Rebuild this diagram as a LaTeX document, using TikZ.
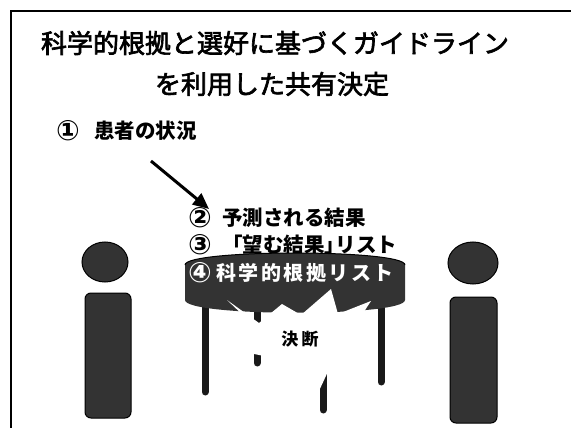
\documentclass[tikz,border=0pt]{standalone}
\usepackage{fontspec}
\newfontfamily\jp{Noto Sans CJK JP}
\newfontfamily\jpmed[FakeBold=2.5]{Noto Sans CJK JP}
\newfontfamily\symb{DejaVu Sans}
\usetikzlibrary{arrows.meta,shapes.geometric}
\begin{document}
\begin{tikzpicture}[x=1pt,y=-1pt,
  title/.style={font=\jpmed\fontsize{26}{30}\selectfont, inner sep=0pt},
  item/.style={font=\jp\bfseries\fontsize{20.5}{24}\selectfont, inner sep=0pt, anchor=west},
  num/.style={font=\symb\bfseries\fontsize{28}{30}\selectfont, inner sep=0pt, anchor=center},
  head/.style={ellipse, fill=black!80, draw=black, line width=1pt, inner sep=0pt},
  torso/.style={rectangle, rounded corners=6pt, fill=black!80, draw=black, line width=1pt, inner sep=0pt},
  tableleg/.style={line width=7pt, line cap=round, black!90},
  pointer/.style={line width=3pt, -{Triangle[length=16pt,width=14pt]}}]
  \useasboundingbox (0,0) rectangle (571,428);
  % slide frame (right and bottom edges run off the page)
  \draw[line width=1.6pt] (11,440) -- (11,11) -- (590,11);

  % title
  \node[title] (t1) at (275,43) {科学的根拠と選好に基づくガイドライン};
  \node[title] (t2) at (272,84) {を利用した共有決定};

  % step labels
  \node[num] (n1) at (68,131) {①};
  \node[item] (s1) at (94,131) {患者の状況};
  \node[num] (n2) at (200,218) {②};
  \node[item] (s2) at (222,218) {予測される結果};
  \node[num] (n3) at (200,245) {③};
  \node[item] (s3) at (222,245) {「望む結果」\hspace{-0.45em}リスト};

  \coordinate (a1) at (151,161);
  \coordinate (a2) at (209,209);
  \draw[pointer] (a1) -- (a2);

  % two people
  \node[head, minimum width=46pt, minimum height=40pt] (hl) at (105,262) {};
  \node[torso, minimum width=46pt, minimum height=125pt] (bl) at (108,355.5) {};
  \node[head, minimum width=50pt, minimum height=42pt] (hr) at (473,263) {};
  \node[torso, minimum width=47pt, minimum height=126pt] (br) at (473.5,360) {};

  % table: legs, then the top band
  \draw[tableleg] (205,305) -- (205,392);
  \draw[tableleg] (381,305) -- (381,382);
  \draw[tableleg] (257,305) -- (257,363);
  \draw[tableleg] (323,305) -- (323,410);
  \fill[black!80] (185,265) .. controls (185,249) and (405,249) .. (405,265)
     -- (405,300) .. controls (405,317) and (185,317) .. (185,300) -- cycle;
  \draw[black, line width=1pt] (185,265) .. controls (185,249) and (405,249) .. (405,265);
  \node[num, text=white] (n4) at (200,273) {④};
  \node[item, text=white, font=\jp\bfseries\fontsize{20}{24}\selectfont] (s4) at (216,273)
     {科\hspace{2.5pt}学\hspace{2.5pt}的\hspace{2.5pt}根\hspace{2.5pt}拠\hspace{2.5pt}リ\hspace{2.5pt}ス\hspace{2.5pt}ト};

  % decision burst
  \fill[white] (227,300) -- (259,323) -- (282,304) -- (301,315) -- (331,289)
     -- (338,314) -- (371,301) -- (352,330) -- (366,346) -- (338,350)
     -- (318,393) -- (304,362) -- (276,358) -- (259,355) -- (240,351)
     -- (250,336) -- (221,330) -- (246,318) -- cycle;
  \node[font=\jp\bfseries\fontsize{17}{19}\selectfont, inner sep=0pt] (d) at (300,339) {決\hspace{0.2em}断};
\end{tikzpicture}
\end{document}
